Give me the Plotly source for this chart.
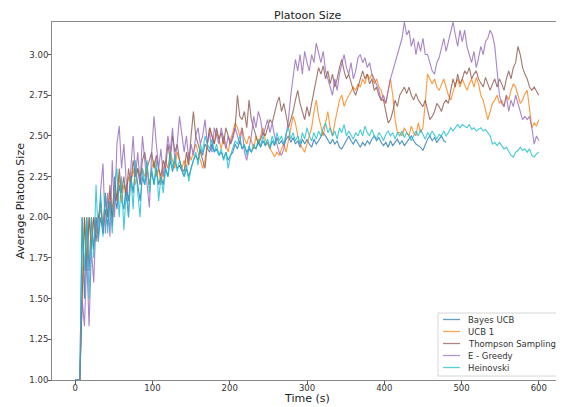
import plotly.graph_objects as go

# Sample times (s), every 3 s
time_s = list(range(0, 601, 3))
time_bayes = list(range(0, 481, 3))

bayes_ucb = [
    1.0, 1.0, 1.0, 2.0, 1.5, 2.0, 1.67, 2.0, 1.8, 2.0,
    1.88, 2.0, 1.9, 2.05, 1.95, 2.1, 2.0, 2.15, 2.05, 2.2,
    2.1, 2.05, 2.2, 2.1, 2.25, 2.15, 2.3, 2.2, 2.1, 2.25,
    2.2, 2.3, 2.2, 2.28, 2.2, 2.3, 2.2, 2.25, 2.2, 2.3,
    2.25, 2.35, 2.28, 2.35, 2.3, 2.32, 2.28, 2.25, 2.3, 2.25,
    2.3, 2.35, 2.38, 2.35, 2.42, 2.38, 2.45, 2.42, 2.4, 2.45,
    2.4, 2.42, 2.38, 2.4, 2.36, 2.4, 2.35, 2.38, 2.4, 2.45,
    2.42, 2.47, 2.42, 2.44, 2.4, 2.42, 2.4, 2.43, 2.42, 2.46,
    2.43, 2.47, 2.44, 2.46, 2.42, 2.47, 2.44, 2.49, 2.45, 2.47,
    2.44, 2.48, 2.5, 2.46, 2.49, 2.45, 2.47, 2.43, 2.48, 2.45,
    2.48, 2.45, 2.43, 2.48, 2.45, 2.47, 2.5, 2.52, 2.5, 2.47,
    2.45, 2.48, 2.45, 2.47, 2.43, 2.42, 2.45, 2.47, 2.5, 2.47,
    2.45, 2.48, 2.45, 2.43, 2.46, 2.44, 2.47, 2.45, 2.48, 2.5,
    2.47, 2.49, 2.46, 2.44, 2.46, 2.43, 2.47, 2.44, 2.46, 2.48,
    2.45, 2.47, 2.44, 2.46, 2.48, 2.5, 2.47, 2.45, 2.44, 2.43,
    2.41, 2.45, 2.48, 2.5, 2.47, 2.49, 2.46, 2.48, 2.5, 2.47,
    2.46,
]

ucb_1 = [
    1.0, 1.0, 1.0, 1.5, 2.0, 1.75, 2.0, 1.85, 2.0, 1.9,
    2.0, 2.05, 1.95, 2.1, 2.0, 2.15, 2.05, 2.2, 2.1, 2.25,
    2.1, 2.2, 2.15, 2.25, 2.2, 2.3, 2.2, 2.3, 2.25, 2.3,
    2.25, 2.3, 2.2, 2.3, 2.35, 2.25, 2.3, 2.2, 2.3, 2.35,
    2.3, 2.4, 2.35, 2.3, 2.4, 2.35, 2.3, 2.35, 2.3, 2.4,
    2.35, 2.4, 2.45, 2.4, 2.35, 2.3, 2.35, 2.45, 2.55, 2.5,
    2.45, 2.52, 2.48, 2.42, 2.5, 2.45, 2.4, 2.48, 2.52, 2.58,
    2.55, 2.5, 2.55, 2.48, 2.45, 2.5, 2.47, 2.42, 2.5, 2.45,
    2.5, 2.55, 2.48, 2.45, 2.42, 2.4, 2.37, 2.4, 2.38, 2.42,
    2.45, 2.4, 2.48, 2.55, 2.62, 2.58, 2.5, 2.45, 2.42, 2.4,
    2.45, 2.5, 2.55, 2.65, 2.72, 2.62, 2.55, 2.5, 2.58, 2.65,
    2.55, 2.5, 2.58, 2.65, 2.72, 2.75, 2.68, 2.72, 2.75, 2.78,
    2.8, 2.78, 2.82, 2.8, 2.85, 2.82, 2.88, 2.85, 2.88, 2.82,
    2.85, 2.8, 2.78, 2.72, 2.7, 2.78, 2.85, 2.75, 2.6, 2.52,
    2.52, 2.5, 2.55, 2.52, 2.5, 2.56, 2.52, 2.5, 2.58, 2.52,
    2.55, 2.7, 2.88, 2.85, 2.82, 2.85, 2.8, 2.78, 2.82, 2.85,
    2.8, 2.75, 2.72, 2.78, 2.82, 2.85, 2.8, 2.85, 2.82, 2.78,
    2.82, 2.85, 2.8, 2.86, 2.82, 2.75, 2.72, 2.65, 2.6, 2.65,
    2.7, 2.72, 2.75, 2.7, 2.72, 2.68, 2.75, 2.72, 2.78, 2.82,
    2.8, 2.75, 2.7, 2.72, 2.76, 2.78, 2.65, 2.55, 2.58, 2.56,
    2.6,
]

thompson = [
    1.0, 1.0, 1.0, 1.5, 2.0, 1.67, 2.0, 1.8, 2.0, 1.85,
    2.0, 2.1, 1.9, 2.15, 2.0, 2.2, 1.95, 2.25, 2.1, 2.3,
    2.15, 2.25, 2.1, 2.3, 2.2, 2.35, 2.25, 2.3, 2.2, 2.35,
    2.4, 2.3, 2.35, 2.4, 2.3, 2.38, 2.3, 2.25, 2.35, 2.3,
    2.45, 2.35, 2.5, 2.4, 2.45, 2.35, 2.3, 2.28, 2.4, 2.32,
    2.5, 2.65, 2.5, 2.45, 2.4, 2.35, 2.3, 2.45, 2.55, 2.5,
    2.45, 2.55, 2.48, 2.52, 2.45, 2.55, 2.5, 2.45, 2.5, 2.55,
    2.75, 2.62, 2.6, 2.65, 2.55, 2.72, 2.6, 2.55, 2.5, 2.45,
    2.48, 2.52, 2.5, 2.55, 2.6, 2.58, 2.65, 2.7, 2.74, 2.65,
    2.7, 2.62, 2.55, 2.6, 2.65, 2.72, 2.78, 2.7, 2.65, 2.6,
    2.68, 2.62, 2.7, 2.78, 2.85, 2.92, 2.88, 2.93, 2.85, 2.9,
    2.82, 2.88, 2.8, 2.85, 2.92, 2.97, 2.9, 2.85, 2.88, 2.82,
    2.78, 2.75, 2.8, 2.85, 2.9, 2.85, 2.88, 2.82, 2.85, 2.78,
    2.8, 2.75, 2.72, 2.72, 2.65, 2.58, 2.6, 2.65, 2.72, 2.68,
    2.75, 2.78, 2.8, 2.76, 2.8, 2.75, 2.72, 2.76, 2.72, 2.7,
    2.68, 2.72, 2.65, 2.6, 2.62, 2.65, 2.7, 2.68, 2.65, 2.7,
    2.72, 2.7, 2.78, 2.85, 2.8, 2.88, 2.82, 2.85, 2.9, 2.88,
    2.92, 2.85, 2.88, 2.9, 2.85, 2.82, 2.8, 2.86, 2.82, 2.78,
    2.82, 2.85, 2.8, 2.85, 2.82, 2.78, 2.85, 2.9, 2.85, 2.92,
    2.95, 3.05, 3.0, 2.92, 2.88, 2.85, 2.8, 2.78, 2.8, 2.77,
    2.75,
]

e_greedy = [
    1.0, 1.0, 1.0, 1.5, 1.33, 1.75, 1.33, 1.8, 1.6, 2.0,
    1.85, 2.17, 2.33, 1.9, 2.15, 1.88, 2.35, 2.0, 2.45, 2.56,
    2.3, 2.45, 2.2, 2.0, 2.3, 2.5, 2.25, 2.4, 2.2, 2.5,
    2.35, 2.2, 2.06, 2.4, 2.62, 2.45, 2.3, 2.42, 2.25, 2.35,
    2.5, 2.4, 2.55, 2.35, 2.45, 2.62, 2.5, 2.4, 2.5, 2.35,
    2.45, 2.38, 2.5, 2.55, 2.45, 2.5, 2.6, 2.45, 2.52, 2.4,
    2.55, 2.5, 2.45, 2.55, 2.48, 2.42, 2.5, 2.45, 2.48, 2.55,
    2.5, 2.45, 2.55, 2.4, 2.35, 2.42, 2.5, 2.62, 2.55, 2.65,
    2.6, 2.5, 2.55, 2.6, 2.52, 2.58, 2.5, 2.45, 2.4, 2.38,
    2.42, 2.5, 2.6, 2.75, 2.85, 2.97, 2.9, 3.0, 2.88, 3.02,
    2.95, 2.9, 3.0, 2.95, 3.07, 3.0, 2.95, 3.02, 2.9, 2.85,
    2.8, 2.75, 2.85, 2.78, 2.88, 2.95, 3.0, 2.92, 2.88, 2.95,
    2.85, 2.9, 2.98, 3.0, 2.95, 2.98, 2.92, 2.95, 2.88, 2.85,
    2.82, 2.78, 2.72, 2.75, 2.7, 2.78, 2.85, 2.9, 2.95, 3.0,
    3.05, 3.1, 3.2, 3.12, 3.15, 3.05, 3.1, 3.0, 3.08, 3.02,
    3.1, 3.0, 3.0, 2.95, 2.9, 2.88, 2.95, 2.98, 3.05, 3.1,
    3.02, 3.08, 3.15, 3.2, 3.12, 3.05, 3.15, 3.08, 3.15, 3.05,
    3.0, 2.95, 3.02, 2.92, 2.98, 3.05, 3.0, 3.08, 3.1, 3.15,
    3.12, 3.05, 2.9, 2.75, 2.7, 2.68, 2.75, 2.65, 2.72, 2.68,
    2.75, 2.7, 2.65, 2.6, 2.62, 2.6, 2.62, 2.55, 2.45, 2.5,
    2.47,
]

heinovski = [
    1.0, 1.0, 1.0, 2.0, 1.67, 2.0, 1.5, 2.0, 1.75, 2.2,
    1.85, 2.15, 1.88, 2.15, 1.9, 2.1, 1.9, 2.2, 2.3, 2.0,
    2.25, 1.92, 2.15, 2.0, 2.25, 2.05, 2.35, 2.15, 2.0, 2.3,
    2.2, 2.35, 2.15, 2.3, 2.2, 2.35, 2.1, 2.25, 2.15, 2.3,
    2.25, 2.4, 2.3, 2.38, 2.28, 2.35, 2.3, 2.25, 2.32, 2.22,
    2.3, 2.35, 2.4, 2.32, 2.45, 2.4, 2.5, 2.45, 2.42, 2.48,
    2.4, 2.45, 2.38, 2.42, 2.35, 2.4, 2.3, 2.38, 2.42, 2.47,
    2.45, 2.5, 2.42, 2.45, 2.38, 2.44, 2.4, 2.45, 2.42, 2.48,
    2.44, 2.5, 2.45, 2.48, 2.43, 2.5, 2.45, 2.52, 2.47, 2.5,
    2.45, 2.52, 2.55, 2.48, 2.52, 2.47, 2.5, 2.45, 2.52, 2.48,
    2.55, 2.5, 2.47, 2.52, 2.48, 2.53, 2.5, 2.55, 2.58, 2.52,
    2.55, 2.5, 2.53, 2.48, 2.55, 2.52, 2.57, 2.5, 2.53, 2.5,
    2.48, 2.52, 2.5, 2.54, 2.5, 2.56, 2.52, 2.5, 2.54, 2.5,
    2.48, 2.52, 2.5, 2.47, 2.51, 2.53, 2.5, 2.52, 2.48, 2.52,
    2.5, 2.53, 2.49, 2.52, 2.5, 2.47, 2.5, 2.53, 2.5, 2.54,
    2.51, 2.48, 2.52, 2.5, 2.53, 2.5, 2.48, 2.51, 2.5, 2.53,
    2.5, 2.52, 2.55, 2.53, 2.55, 2.57, 2.55, 2.57, 2.56, 2.55,
    2.57, 2.54, 2.55, 2.53, 2.54, 2.55, 2.53, 2.54, 2.52, 2.5,
    2.45, 2.46, 2.44, 2.46, 2.44, 2.42, 2.43, 2.4, 2.38, 2.37,
    2.4, 2.41, 2.43, 2.41, 2.42, 2.4, 2.42, 2.38, 2.37, 2.39,
    2.4,
]

series_names = ["Bayes UCB", "UCB 1", "Thompson Sampling", "E - Greedy", "Heinovski"]
series_times = [time_bayes, time_s, time_s, time_s, time_s]
series_values = [bayes_ucb, ucb_1, thompson, e_greedy, heinovski]
series_colors = ["#1f77b4", "#ff7f0e", "#8c564b", "#9467bd", "#17becf"]

x_ticks = [0, 100, 200, 300, 400, 500, 600]
y_ticks = [1.00, 1.25, 1.50, 1.75, 2.00, 2.25, 2.50, 2.75, 3.00]

# The page body has an 8px margin, so the figure is drawn 8px right/down.
OFF = 8
PAGE_W, PAGE_H = 564, 407
W, H = PAGE_W - OFF, PAGE_H - OFF
# plot area in page pixels: x 52..562, y 22..380
PL, PR, PT, PB = 52, 562, 22, 380
ML, MT = PL - OFF, PT - OFF
MR = W - (PR - OFF)
MB = H - (PB - OFF)
PW, PH = PR - PL, PB - PT


def px_x(p):
    return (p - PL) / PW


def px_y(p):
    return (PB - p) / PH


fig = go.Figure()
for name, t, v, color in zip(series_names, series_times, series_values, series_colors):
    fig.add_trace(go.Scatter(
        x=t, y=v, mode="lines", name=name,
        line=dict(color=color, width=1.1),
        opacity=0.8, showlegend=False,
    ))

font_family = "DejaVu Sans"
shapes = []
annotations = []

# Custom legend (matplotlib style, compact)
shapes.append(dict(type="rect", xref="paper", yref="paper",
                   x0=px_x(438), x1=px_x(557), y0=px_y(376), y1=px_y(313),
                   line=dict(color="#d6d6d6", width=1),
                   fillcolor="rgba(255,255,255,0.85)", layer="above"))
row_y = [319.5, 331.5, 343.5, 355.5, 367.5]
for name, color, ry in zip(series_names, series_colors, row_y):
    shapes.append(dict(type="line", xref="paper", yref="paper",
                       x0=px_x(443), x1=px_x(460), y0=px_y(ry), y1=px_y(ry),
                       line=dict(color=color, width=1.3), opacity=0.7, layer="above"))
    annotations.append(dict(text=name, xref="paper", yref="paper",
                            x=px_x(466), y=px_y(ry), xanchor="left", yanchor="middle",
                            showarrow=False,
                            font=dict(family=font_family, size=8.5, color="#333")))

# Axis titles and chart title
annotations.append(dict(text="Time (s)", xref="paper", yref="paper",
                        x=0.5, y=px_y(398.5), xanchor="center", yanchor="middle",
                        showarrow=False,
                        font=dict(family=font_family, size=11, color="#222")))
annotations.append(dict(text="Average Platoon Size", xref="paper", yref="paper",
                        x=px_x(20), y=0.5, xanchor="center", yanchor="middle",
                        textangle=-90, showarrow=False,
                        font=dict(family=font_family, size=11, color="#222")))
annotations.append(dict(text="Platoon Size", xref="paper", yref="paper",
                        x=px_x(307), y=px_y(15.5), xanchor="center", yanchor="middle",
                        showarrow=False,
                        font=dict(family=font_family, size=11, color="#222")))

fig.update_layout(
    width=W, height=H,
    margin=dict(l=ML, r=MR, t=MT, b=MB, autoexpand=False),
    paper_bgcolor="white", plot_bgcolor="white",
    font=dict(family=font_family, size=9, color="#333"),
    showlegend=False,
    shapes=shapes,
    annotations=annotations,
)
fig.update_xaxes(
    range=[-30, 630], tickvals=x_ticks, ticktext=[str(v) for v in x_ticks],
    showgrid=False, zeroline=False, showline=True, linecolor="#888", linewidth=1,
    mirror=True, ticks="outside", ticklen=3, tickcolor="#555", automargin=False,
    ticklabelstandoff=-3, tickfont=dict(size=8.5),
)
fig.update_yaxes(
    range=[1.0, 3.2], tickvals=y_ticks, ticktext=[f"{v:.2f}" for v in y_ticks],
    showgrid=False, zeroline=False, showline=True, linecolor="#888", linewidth=1,
    mirror=True, ticks="outside", ticklen=3, tickcolor="#555", automargin=False,
    ticklabelstandoff=-2, tickfont=dict(size=8.5),
)

fig.write_html("out.html")
